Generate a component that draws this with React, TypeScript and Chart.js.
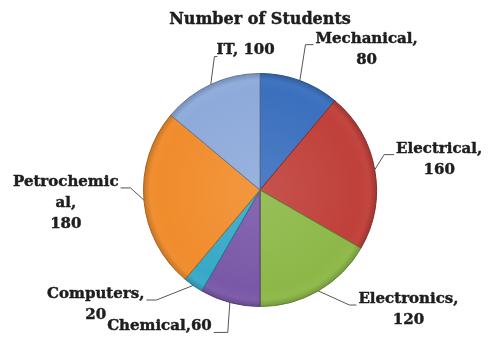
import React, { useEffect, useRef } from "react";
import { Chart, registerables } from "chart.js";

Chart.register(...registerables);

const TITLE = "Number of Students";
const CATEGORIES = ["Mechanical", "Electrical", "Electronics", "Chemical", "Computers", "Petrochemical", "IT"];
const STUDENTS = [80, 160, 120, 60, 20, 180, 100];
const COLORS = ["#3b70be", "#c0403a", "#8db848", "#7a58a8", "#37a9c8", "#f08c2c", "#8eaada"];

// label text lines
const LABEL_LINES: string[][] = CATEGORIES.map((c, i) => {
  const v = String(STUDENTS[i]);
  if (c === "Petrochemical") return [c.slice(0, 11), c.slice(11) + ",", v];
  if (c === "Chemical") return [`${c},${v}`];
  if (c === "IT") return [`${c}, ${v}`];
  return [`${c},`, v];
});
// label block centre as multiples of the pie radius, relative to pie centre
const LABEL_FX = [0.915, 1.538, 1.274, -0.863, -1.41, -1.667, -0.124];
const LABEL_FY = [-1.209, -0.265, 1.026, 1.171, 0.983, 0.111, -1.197];
const LEADER_GAP = [8, 10, 7, 14, 10, 10, 3];

function shade(hex: string, f: number): string {
  const n = parseInt(hex.slice(1), 16);
  let r = (n >> 16) & 255, g = (n >> 8) & 255, b = n & 255;
  if (f < 0) {
    r = Math.round(r * (1 + f)); g = Math.round(g * (1 + f)); b = Math.round(b * (1 + f));
  } else {
    r = Math.round(r + (255 - r) * f); g = Math.round(g + (255 - g) * f); b = Math.round(b + (255 - b) * f);
  }
  return `rgb(${r},${g},${b})`;
}

const FONT = "bold 15px 'DejaVu Serif'";
const TITLE_FONT = "bold 16px 'DejaVu Serif'";
const TEXT_COLOR = "#1e1e1e";

function boldText(ctx: CanvasRenderingContext2D, t: string, x: number, y: number) {
  ctx.fillText(t, x, y);
  ctx.strokeText(t, x, y);
}

const labelPlugin = {
  id: "pieLabels",
  afterDraw(chart: any) {
    const meta = chart.getDatasetMeta(0);
    const ctx: CanvasRenderingContext2D = chart.ctx;
    ctx.save();
    ctx.textBaseline = "middle";
    ctx.textAlign = "center";
    ctx.fillStyle = TEXT_COLOR;
    ctx.strokeStyle = TEXT_COLOR;
    ctx.lineWidth = 0.45;
    ctx.lineJoin = "round";
    const ca = chart.chartArea;
    ctx.font = TITLE_FONT;
    boldText(ctx, TITLE, (ca.left + ca.right) / 2, 20);
    ctx.font = FONT;
    const lh = 21;
    meta.data.forEach((arc: any, i: number) => {
      const { x, y, startAngle, endAngle, outerRadius } = arc.getProps(["x", "y", "startAngle", "endAngle", "outerRadius"], true);
      const mid = (startAngle + endAngle) / 2;
      const px = x + outerRadius * Math.cos(mid);
      const py = y + outerRadius * Math.sin(mid);
      const lines = LABEL_LINES[i];
      const cx = x + LABEL_FX[i] * outerRadius;
      const cy = y + LABEL_FY[i] * outerRadius;
      const top = cy - ((lines.length - 1) * lh) / 2;
      ctx.fillStyle = TEXT_COLOR;
      ctx.strokeStyle = TEXT_COLOR;
      ctx.lineWidth = 0.45;
      lines.forEach((t, k) => boldText(ctx, t, cx, top + k * lh));
      const w0 = ctx.measureText(lines[0]).width;
      const right = LABEL_FX[i] > 0;
      let ax: number;
      let ex: number;
      if (i === 6) {
        ax = cx - w0 / 2 + 1;
        ex = ax - LEADER_GAP[i];
      } else if (right) {
        ax = cx - w0 / 2 - 2;
        ex = ax - LEADER_GAP[i];
      } else {
        ax = cx + w0 / 2 + 2;
        ex = ax + LEADER_GAP[i];
      }
      const ay = top + 6;
      ctx.strokeStyle = "#555";
      ctx.lineWidth = 1;
      ctx.beginPath();
      ctx.moveTo(px, py);
      ctx.lineTo(ex, ay);
      ctx.lineTo(ax, ay);
      ctx.stroke();
    });
    ctx.restore();
  },
};

export default function App() {
  const ref = useRef<HTMLCanvasElement | null>(null);
  useEffect(() => {
    if (!ref.current) return;
    const chart = new Chart(ref.current, {
      type: "pie",
      data: {
        labels: CATEGORIES,
        datasets: [
          {
            data: STUDENTS,
            backgroundColor: (c: any) => {
              const base = COLORS[c.dataIndex];
              const ch = c.chart;
              if (!ch.chartArea) return base;
              const cx = (ch.chartArea.left + ch.chartArea.right) / 2;
              const cy = (ch.chartArea.top + ch.chartArea.bottom) / 2;
              const r = Math.min(ch.chartArea.width, ch.chartArea.height) / 2;
              const g = ch.ctx.createRadialGradient(cx, cy, 0, cx, cy, r);
              g.addColorStop(0, shade(base, 0.1));
              g.addColorStop(0.85, base);
              g.addColorStop(0.94, shade(base, 0.03));
              g.addColorStop(1, shade(base, -0.18));
              return g;
            },
            borderColor: COLORS.map((c) => shade(c, -0.3)),
            borderWidth: 1,
          },
        ],
      },
      options: {
        responsive: false,
        maintainAspectRatio: false,
        animation: false,
        rotation: 0,
        layout: { padding: { left: 60, right: 39, top: 73, bottom: 39 } },
        plugins: {
          legend: { display: false },
          tooltip: { enabled: false },
          title: { display: false },
        },
      },
      plugins: [labelPlugin],
    });
    return () => chart.destroy();
  }, []);
  return (
    <div style={{ position: "fixed", left: 0, top: 0, width: 499, height: 346, background: "#fff" }}>
      <canvas ref={ref} width={499} height={346} />
    </div>
  );
}
